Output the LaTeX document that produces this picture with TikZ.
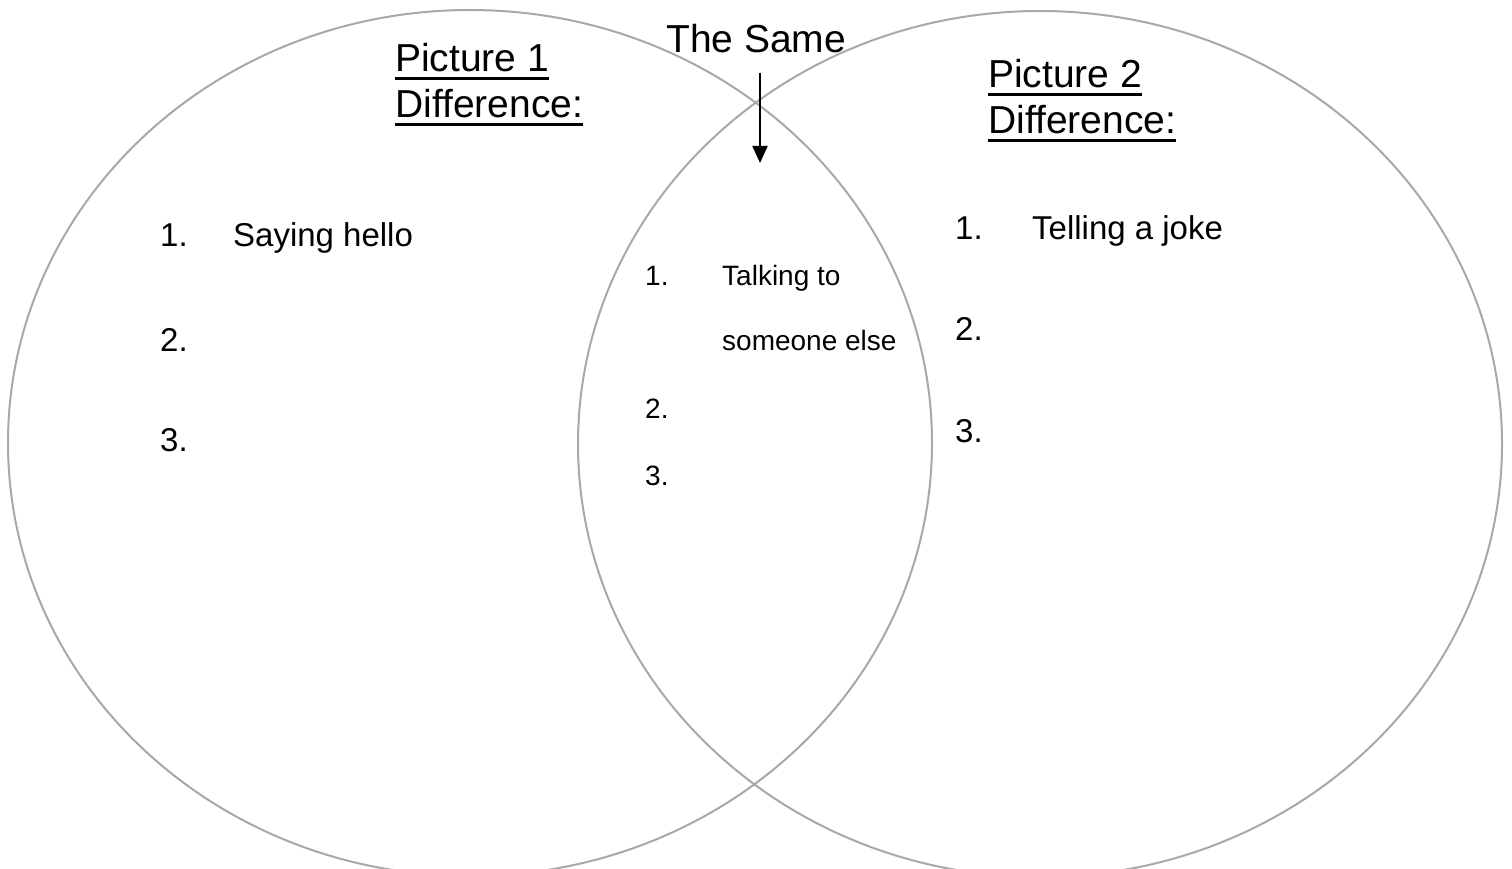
\documentclass[tikz,border=0pt]{standalone}
\usepackage{fontspec}
\setmainfont{Liberation Sans}
\usetikzlibrary{arrows.meta}

\definecolor{ringgray}{RGB}{168,168,168}

\tikzset{
	ring/.style={draw=ringgray, line width=2pt},
	heading/.style={anchor=base west, inner sep=0pt, font=\fontsize{39}{46}\selectfont},
	entry/.style={anchor=base west, inner sep=0pt, font=\fontsize{33}{40}\selectfont},
	small entry/.style={anchor=base west, inner sep=0pt, font=\fontsize{28}{34}\selectfont},
	uline/.style={line width=2.5pt},
	pointer/.style={line width=2pt, -{Triangle[length=17pt,width=15pt]}},
}

\begin{document}
\begin{tikzpicture}[x=1pt, y=-1pt]
	\useasboundingbox (0,0) rectangle (1512,869);
	\clip (0,0) rectangle (1512,869);

	% the two sets
	\draw[ring] (470,443) ellipse [x radius=462pt, y radius=433pt];
	\draw[ring] (1040,444) ellipse [x radius=462pt, y radius=433pt];

	% headings
	\node[heading] (p1a) at (395,72) {Picture 1};
	\node[heading] (p1b) at (395,118) {Difference:};
	\node[heading] (p2a) at (988,88) {Picture 2};
	\node[heading] (p2b) at (988,134) {Difference:};
	\foreach \h in {p1a, p1b, p2a, p2b}
		\draw[uline] ([yshift=-6.5pt]\h.base west) -- ([yshift=-6.5pt]\h.base east);

	\node[heading] (same) at (666,53) {The Same};
	\coordinate (tip) at (760,163);
	\draw[pointer, shorten <=19pt] (same.south -| tip) -- (tip);

	% left list
	\node[entry] (l1) at (160,247) {1.};
	\node[entry] (l1t) at (233,247) {Saying hello};
	\node[entry] (l2) at (160,351) {2.};
	\node[entry] (l3) at (160,451) {3.};

	% middle list
	\node[small entry] (m1) at (645,285) {1.};
	\node[small entry] (m1t) at (722,285) {Talking to};
	\node[small entry] (m1u) at (722,350) {someone else};
	\node[small entry] (m2) at (645,418) {2.};
	\node[small entry] (m3) at (645,485) {3.};

	% right list
	\node[entry] (r1) at (955,240) {1.};
	\node[entry] (r1t) at (1032,240) {Telling a joke};
	\node[entry] (r2) at (955,340) {2.};
	\node[entry] (r3) at (955,442) {3.};
\end{tikzpicture}
\end{document}
